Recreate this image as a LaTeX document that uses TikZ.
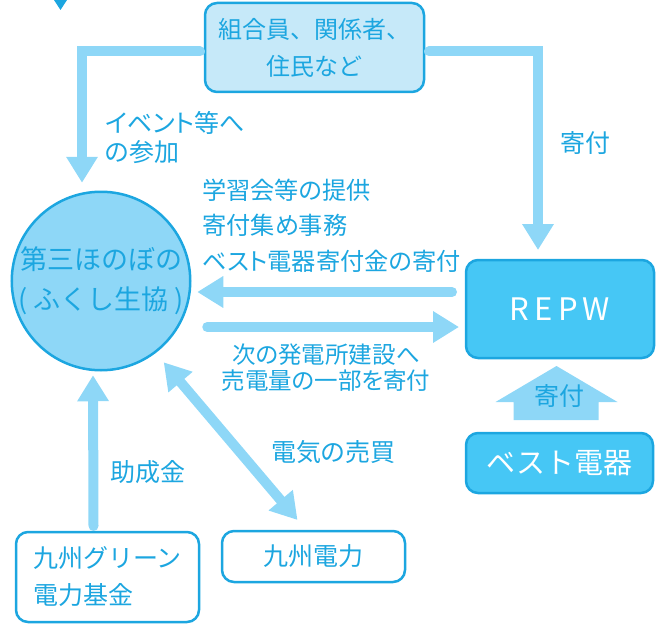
\documentclass[tikz,border=0pt]{standalone}
\usepackage{fontspec}
\setmainfont{Noto Sans CJK JP}
\newfontfamily\jpp{Noto Sans CJK JP}[RawFeature=+palt]
\usetikzlibrary{arrows.meta}
\definecolor{cyanD}{HTML}{1CA6E0}
\definecolor{cyanL}{HTML}{8ED7F7}
\definecolor{cyanM}{HTML}{46C7F5}
\definecolor{cyanP}{HTML}{C6E9F9}
\newcommand{\fs}[2]{\fontsize{#1}{#2}\selectfont}
\begin{document}
\begin{tikzpicture}[x=1pt,y=-1pt,>={Triangle[width=30pt,length=26pt]},
	box/.style={draw=cyanD,line width=2.5pt,rounded corners=12pt,text=cyanD,
		align=center,inner sep=0pt,outer sep=0pt},
	bigarrow/.style={draw=cyanL,line width=10pt,line cap=round,->},
	lbl/.style={text=cyanD,align=left,anchor=west,inner sep=0pt}]
	\useasboundingbox (0,0) rectangle (660,623);
	% nodes
	\node[box,fill=cyanP,minimum width=219pt,minimum height=89pt,font=\fs{24}{37}] (members) at (314.5,47.5) {組合員、関係者、\\住民など};
	\node[circle,draw=cyanD,line width=2.5pt,fill=cyanL,minimum size=178pt,inner sep=0pt,outer sep=0pt,
		text=cyanD,align=center,font=\fs{27}{40}] (coop) at (101,281) {第三ほのぼの\\(\hspace{6pt}ふくし生協\hspace{6pt})};
	\node[box,fill=cyanM,text=white,minimum width=188pt,minimum height=98pt,font=\fs{31}{36}] (repw) at (560,309) {R\,E\,P\,W};
	\node[box,fill=cyanM,text=white,minimum width=187pt,minimum height=60pt,font=\fs{29}{36}] (best) at (559.5,463) {ベスト電器};
	\node[box,fill=white,align=left,minimum width=183pt,minimum height=90pt,font=\fs{25}{37}] (fund) at (107.5,577) {九州グリーン\\電力基金};
	\node[box,fill=white,minimum width=183pt,minimum height=51pt,font=\fs{25}{30}] (kyuden) at (313.5,556.5) {九州電力};
	% connectors
	\draw[bigarrow] ([shift={(-5pt,-4pt)}]members.west) -| ([shift={(-19pt,9pt)}]coop.north);
	\draw[bigarrow] ([shift={(5pt,-4pt)}]members.east) -| ([shift={(-22pt,10pt)}]repw.north);
	\draw[bigarrow] ([shift={(-14pt,17pt)}]repw.west) -- ([shift={(7pt,-11pt)}]coop.east);
	\draw[bigarrow] ([shift={(17pt,-46pt)}]coop.east) -- ([shift={(-7pt,-18pt)}]repw.west);
	\draw[bigarrow] ([shift={(-14pt,6pt)}]fund.north) -- ([shift={(-8pt,-5pt)}]coop.south);
	\draw[bigarrow,<->] ([shift={(9pt,-10pt)}]coop.-53) -- ([shift={(-16pt,11pt)}]kyuden.north);
	\fill[cyanL] ([shift={(-46pt,13pt)}]best.north) -- ++(0,-18) -- ++(-18,0) -- ++(61,-36)
		-- ++(61,36) -- ++(-19,0) -- ++(0,18) -- cycle;
	\node[text=cyanD,inner sep=0pt,font=\jpp\fs{25}{30}] (gift) at ([yshift=37pt]best.north) {寄付};
	\fill[cyanD] (54,0) -- (67,0) -- (60.5,10) -- cycle;
	% labels
	\node[lbl,font=\jpp\fs{25}{29}] (event) at (105,137.5) {イベント等へ\\の参加};
	\node[lbl,font=\jpp\fs{25}{30}] (donate) at (560,143) {寄付};
	\node[lbl,font=\jpp\fs{24.2}{35.5}] (support) at (202,225.5) {学習会等の提供\\寄付集め事務\\ベスト電器寄付金の寄付};
	\node[lbl,align=center,anchor=center,font=\jpp\fs{23.5}{26}] (share) at (326,367.5) {次の発電所建設へ\\売電量の一部を寄付};
	\node[lbl,font=\jpp\fs{25}{30}] (trade) at (271,452) {電気の売買};
	\node[lbl,font=\jpp\fs{25}{30}] (grant) at (110,472) {助成金};
\end{tikzpicture}
\end{document}
